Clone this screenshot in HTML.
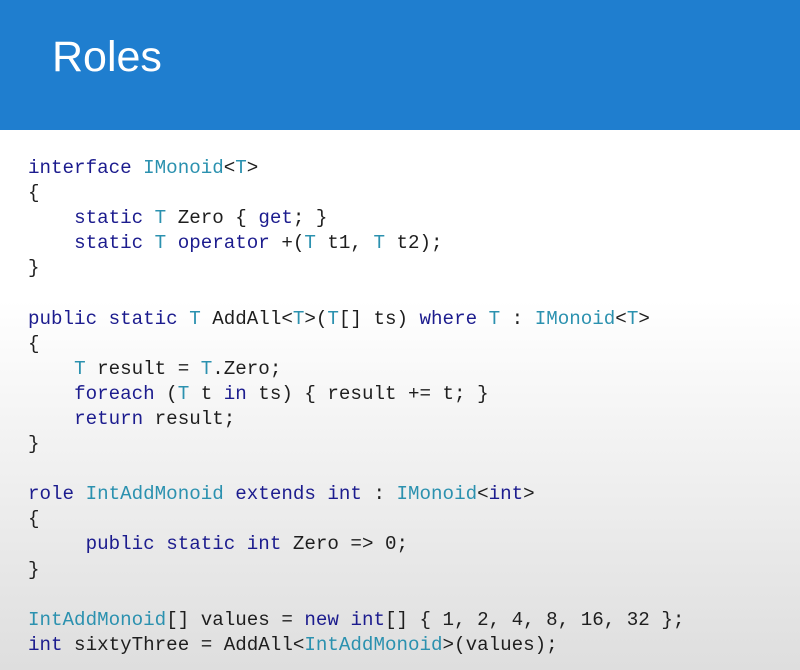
<!DOCTYPE html>
<html><head><meta charset="utf-8"><style>
html,body{margin:0;padding:0}
body{width:800px;height:670px;overflow:hidden;position:relative;background:linear-gradient(#ffffff 0px,#ffffff 300px,#dedede 670px);font-family:"Liberation Sans",sans-serif}
.hdr{position:absolute;left:0;top:0;width:800px;height:130px;background:#1f7ecf}
.ttl{position:absolute;left:52px;top:32px;color:#fff;font-size:43px;line-height:50px}
pre{position:absolute;left:28px;top:156px;margin:0;font-family:"Liberation Mono",monospace;font-size:19.2px;line-height:25.1px;color:#1e1e1e}
.k{color:#1c1c8e}.t{color:#2b91af}
</style></head><body>
<div class="hdr"></div><div class="ttl">Roles</div>
<pre><span class="k">interface</span> <span class="t">IMonoid</span>&lt;<span class="t">T</span>&gt;
{
    <span class="k">static</span> <span class="t">T</span> Zero { <span class="k">get</span>; }
    <span class="k">static</span> <span class="t">T</span> <span class="k">operator</span> +(<span class="t">T</span> t1, <span class="t">T</span> t2);
}

<span class="k">public</span> <span class="k">static</span> <span class="t">T</span> AddAll&lt;<span class="t">T</span>&gt;(<span class="t">T</span>[] ts) <span class="k">where</span> <span class="t">T</span> : <span class="t">IMonoid</span>&lt;<span class="t">T</span>&gt;
{
    <span class="t">T</span> result = <span class="t">T</span>.Zero;
    <span class="k">foreach</span> (<span class="t">T</span> t <span class="k">in</span> ts) { result += t; }
    <span class="k">return</span> result;
}

<span class="k">role</span> <span class="t">IntAddMonoid</span> <span class="k">extends</span> <span class="k">int</span> : <span class="t">IMonoid</span>&lt;<span class="k">int</span>&gt;
{
     <span class="k">public</span> <span class="k">static</span> <span class="k">int</span> Zero =&gt; 0;
}

<span class="t">IntAddMonoid</span>[] values = <span class="k">new</span> <span class="k">int</span>[] { 1, 2, 4, 8, 16, 32 };
<span class="k">int</span> sixtyThree = AddAll&lt;<span class="t">IntAddMonoid</span>&gt;(values);</pre>
</body></html>
